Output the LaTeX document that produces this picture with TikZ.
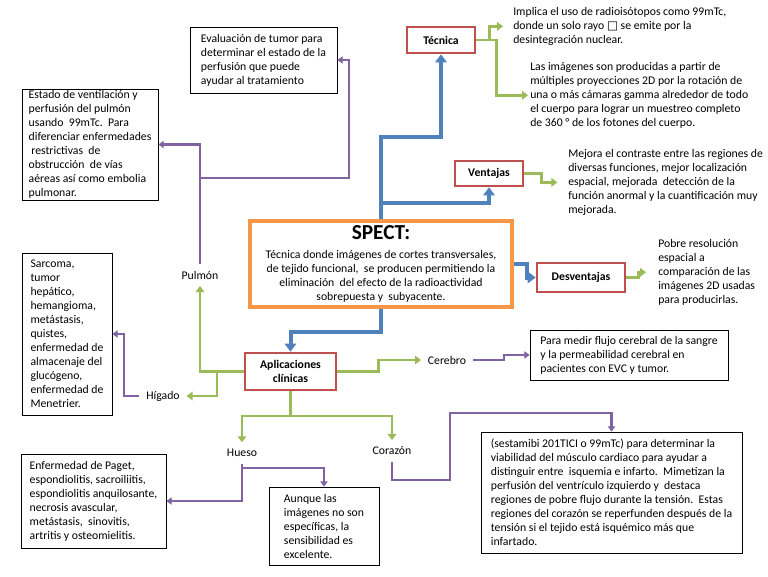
\documentclass[tikz,border=0pt]{standalone}
\usepackage{fontspec}
\setmainfont{Carlito}
\newfontfamily\dejavu{DejaVu Sans}
\usetikzlibrary{arrows.meta}
\definecolor{boxred}{HTML}{C0504D}
\definecolor{sporange}{HTML}{F79646}
\definecolor{lnblue}{HTML}{4F81BD}
\definecolor{lngreen}{HTML}{9BBB59}
\definecolor{lnpurple}{HTML}{8064A2}

\begin{document}
\begin{tikzpicture}[x=0.75pt,y=-0.75pt,
  every node/.style={font=\fontsize{8.8}{10.5}\selectfont},
  txtbox/.style={draw=black,line width=0.6pt,fill=white,align=left,inner xsep=5pt,inner ysep=1pt},
  redbox/.style={draw=boxred,line width=2pt,fill=white,align=center,inner sep=0pt,font=\fontsize{8.8}{10.5}\selectfont\bfseries},
  spectbox/.style={draw=sporange,line width=3pt,fill=white,align=center,inner sep=1pt},
  freetxt/.style={align=left,inner sep=0pt,anchor=north west},
  tag/.style={inner sep=5pt},
  blueln/.style={draw=lnblue,line width=3pt,-{Triangle[width=8.5pt,length=6pt]}},
  grnln/.style={draw=lngreen,line width=2pt,-{Triangle[width=6.5pt,length=4.5pt]}},
  purln/.style={draw=lnpurple,line width=1.6pt,-{Triangle[width=5.5pt,length=4pt]}}]
\useasboundingbox (0,0) rectangle (768,576);

\node[spectbox,minimum width=196.5pt,minimum height=64.5pt] (spect) at (381,264) {{\fontsize{16}{16}\selectfont\bfseries SPECT:}\\[3.5pt]
  Técnica donde imágenes de cortes transversales,\\
  de tejido funcional,\ \ se producen permitiendo la\\
  eliminación\ \ del efecto de la radioactividad\\
  sobrepuesta y\ \ subyacente.};
\node[redbox,minimum width=51pt,minimum height=19.5pt] (tec) at (441,40) {Técnica};
\node[redbox,minimum width=51pt,minimum height=18.75pt] (ven) at (489,173.5) {Ventajas};
\node[redbox,minimum width=66pt,minimum height=21.75pt] (des) at (581,277.5) {Desventajas};
\node[redbox,minimum width=68.25pt,minimum height=27.75pt] (apl) at (290.5,371.5) {Aplicaciones\\clínicas};

\node[freetxt] (tecA) at (513,7) {Implica el uso de radioisótopos como 99mTc,\\
  donde un solo rayo {\dejavu □} se emite por la\\
  desintegración nuclear.};
\node[freetxt] (tecB) at (530,62) {Las imágenes son producidas a partir de\\
  múltiples proyecciones 2D por la rotación de\\
  una o más cámaras gamma alrededor de todo\\
  el cuerpo para lograr un muestreo completo\\
  de 360 ° de los fotones del cuerpo.};
\node[freetxt] (venT) at (568,149) {Mejora el contraste entre las regiones de\\
  diversas funciones, mejor localización\\
  espacial, mejorada\ \ detección de la\\
  función anormal y la cuantificación muy\\
  mejorada.};
\node[freetxt] (desT) at (658,239) {Pobre resolución\\
  espacial a\\
  comparación de las\\
  imágenes 2D usadas\\
  para producirlas.};

\node[txtbox,minimum width=110.25pt,minimum height=49.5pt] (eva) at (263.5,60) {Evaluación de tumor para\\
  determinar el estado de la\\
  perfusión que puede\\
  ayudar al tratamiento};
\node[txtbox,minimum width=102pt,minimum height=83.25pt] (est) at (90,144.5) {Estado de ventilación y\\
  perfusión del pulmón\\
  usando\ \ 99mTc.\ \ Para\\
  diferenciar enfermedades\\
  \ restrictivas\ \ de\\
  obstrucción\ \ de vías\\
  aéreas así como embolia\\
  pulmonar.};
\node[txtbox,minimum width=67.5pt,minimum height=121.5pt] (sar) at (67,334) {Sarcoma,\\
  tumor\\
  hepático,\\
  hemangioma,\\
  metástasis,\\
  quistes,\\
  enfermedad de\\
  almacenaje del\\
  glucógeno,\\
  enfermedad de\\
  Menetrier.};
\node[txtbox,minimum width=148.5pt,minimum height=37.5pt] (cerb) at (629,355) {Para medir flujo cerebral de la sangre\\
  y la permeabilidad cerebral en\\
  pacientes con EVC y tumor.};
\node[txtbox,inner xsep=4pt,minimum width=195.75pt,minimum height=90.75pt] (corb) at (611.5,492.5) {(sestamibi 201TICI o 99mTc) para determinar la\\
  viabilidad del músculo cardiaco para ayudar a\\
  distinguir entre\ \ isquemia e infarto.\ \ Mimetizan la\\
  perfusión del ventrículo izquierdo y\ \ destaca\\
  regiones de pobre flujo durante la tensión.\ \ Estas\\
  regiones del corazón se reperfunden después de la\\
  tensión si el tejido está isquémico más que\\
  infartado.};
\node[txtbox,minimum width=108.75pt,minimum height=70.5pt] (enf) at (93.5,501) {Enfermedad de Paget,\\
  espondiolitis, sacroiliitis,\\
  espondiolitis anquilosante,\\
  necrosis avascular,\\
  metástasis,\ \ sinovitis,\\
  artritis y osteomielitis.};
\node[txtbox,minimum width=82.5pt,minimum height=58.5pt] (aun) at (324,526) {Aunque las\\
  imágenes no son\\
  específicas, la\\
  sensibilidad es\\
  excelente.};

\node[tag] (pul) at (200,275) {Pulmón};
\node[tag] (hig) at (163,396) {Hígado};
\node[tag] (cer) at (447,360) {Cerebro};
\node[tag] (hue) at (242,453) {Hueso};
\node[tag] (cor) at (392,451) {Corazón};

\coordinate (b1) at (381,137);
\coordinate (b2) at (381,203);
\coordinate (g1) at (217,371.5);
\coordinate (g2) at (290.5,416);
\coordinate (p1) at (200,178);
\coordinate (p2) at (349,178);
\coordinate (p3) at (242,468);
\coordinate (p4) at (450,480);
\coordinate (p5) at (611.5,413);

\path[draw,blueln] (spect.north) -- (b1) -| (tec.south);
\path[draw,blueln] (b2) -| (ven.south);
\path[draw,blueln] (spect.east) -- ++(13,0) |- (des.west);
\path[draw,blueln] (spect.south) -- ++(0,23) -| (apl.north);

\path[draw,grnln] (tec.east) -- ++(13,0) |- ([xshift=-7.5pt]tecA.west);
\path[draw,grnln] (tec.east) -- ++(20,0) |- ([xshift=-1.5pt]tecB.west);
\path[draw,grnln] (ven.east) -- ++(17,0) |- ([xshift=-8pt]venT.west);
\path[draw,grnln] (des.east) -- ++(12,0) |- ([xshift=-9pt]desT.west);
\path[draw,grnln] (apl.west) -| (pul.south);
\path[draw,grnln] (g1) |- (hig.east);
\path[draw,grnln] (apl.east) -- ++(41,0) |- (cer.west);
\path[draw,grnln,-] (apl.south) -- (g2);
\path[draw,grnln] (g2) -| (hue.north);
\path[draw,grnln] (g2) -| (cor.north);

\path[draw,purln] (pul.north) |- (est.east);
\path[draw,purln] (p1) -- (p2) |- (eva.east);
\path[draw,purln] (hig.west) -- ++(-15,0) |- (sar.east);
\path[draw,purln] (cer.east) -- ++(31,0) |- (cerb.west);
\path[draw,purln] (hue.south) |- (enf.east);
\path[draw,purln] (p3) -| (aun.north);
\path[draw,purln] (cor.south) |- (p4) |- (p5) -- (corb.north);
\end{tikzpicture}
\end{document}
